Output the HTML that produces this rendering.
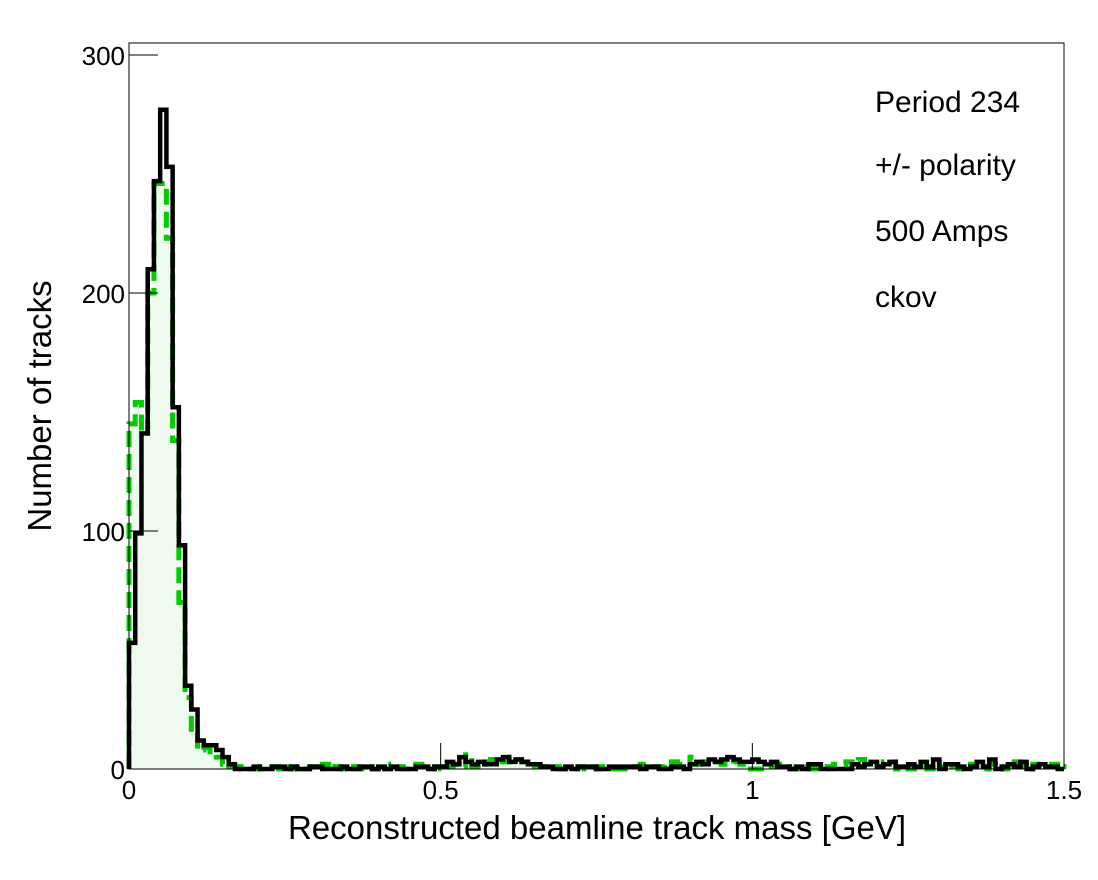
<!DOCTYPE html>
<html><head><meta charset="utf-8"><style>
body{margin:0;background:#fff;}
svg text{font-family:"Liberation Sans",sans-serif;fill:#000;}
</style></head><body>
<svg id="c" width="1098" height="875" xmlns="http://www.w3.org/2000/svg">
<rect x="0" y="0" width="1098" height="875" fill="#fff"/>
<g id="plot"></g>
<rect x="129" y="43" width="935" height="726" fill="none" stroke="#000" stroke-width="1"/>
<g id="axes"></g>
<text x="597" y="839" font-size="33" text-anchor="middle">Reconstructed beamline track mass [GeV]</text>
<text x="0" y="0" font-size="33" text-anchor="middle" transform="translate(51,406) rotate(-90)">Number of tracks</text>
<text x="875" y="112" font-size="30">Period 234</text>
<text x="875" y="175" font-size="30">+/- polarity</text>
<text x="875" y="241" font-size="30">500 Amps</text>
<text x="875" y="307" font-size="30">ckov</text>
</svg>
<script>
const xTicks=[0,0.5,1,1.5];
const xTickLabels=["0","0.5","1","1.5"];
const yTicks=[0,100,200,300];
const yTickLabels=["0","100","200","300"];
const binWidth=0.01;
const blackHead=[53,99,141,210,247,277,253,152,94,35,25,12,10,10,8,5,2,0];
const blackTail=[0,0,1,0,0,1,1,0,1,0,0,1,1,0,0,0,1,0,0,1,1,0,1,0,1,0,0,0,1,1,0,1,1,3,2,5,3,2,3,2,2,4,5,3,4,3,2,2,1,1,0,0,1,0,1,1,1,0,0,1,1,1,1,1,0,1,1,0,0,1,1,0,2,3,2,4,3,4,5,4,3,3,4,3,2,3,1,1,0,1,0,2,2,0,0,0,0,0,2,1,2,3,1,2,3,1,1,2,1,3,1,4,0,2,2,1,0,1,3,1,4,0,1,2,1,3,0,1,2,1,1,0];
const greenHead=[145,154,141,200,246,246,223,138,70,30,15,8,9,6,5,2,1,1];
const greenTail=[0,0,0,1,1,1,0,1,0,1,0,1,0,2,0,1,0,0,1,0,1,0,2,0,2,1,0,0,2,1,0,1,0,1,2,1,6,1,2,3,4,3,3,5,4,3,2,1,1,1,1,0,0,0,1,0,0,1,0,0,0,0,1,1,2,2,1,1,2,3,2,1,5,2,3,3,3,2,2,3,2,0,0,0,1,1,2,1,0,0,1,0,0,0,1,2,2,3,2,4,2,2,1,3,3,0,1,0,1,1,0,3,1,2,1,0,1,2,1,0,2,1,0,1,3,1,0,2,1,1,2,1];
const blackVals=blackHead.concat(blackTail).slice(0,150);
const greenVals=greenHead.concat(greenTail).slice(0,150);
while(blackVals.length<150)blackVals.push(0);
while(greenVals.length<150)greenVals.push(0);

const X0=129,X1=1064,Y0=769,Y300=55;
const sx=v=>X0+(v-0)/1.5*(X1-X0);
const sy=v=>Y0-(v/300)*(Y0-Y300);
const NS="http://www.w3.org/2000/svg";
function stepPath(vals){
  let d="M"+sx(0)+","+sy(0);
  vals.forEach((v,i)=>{d+=" L"+sx(i*binWidth)+","+sy(v)+" L"+sx((i+1)*binWidth)+","+sy(v);});
  d+=" L"+sx(vals.length*binWidth)+","+sy(0);
  return d;
}
const plot=document.getElementById('plot');
const fill=document.createElementNS(NS,'path');
fill.setAttribute('d',stepPath(greenVals)+" Z");
fill.setAttribute('fill','#effaef');
fill.setAttribute('stroke','none');


plot.appendChild(fill);
const g=document.createElementNS(NS,'path');
g.setAttribute('d',stepPath(greenVals));
g.setAttribute('fill','none');
g.setAttribute('stroke','#00cc00');
g.setAttribute('stroke-width','5');
g.setAttribute('stroke-dasharray','16,7');


plot.appendChild(g);
const b=document.createElementNS(NS,'path');
b.setAttribute('d',stepPath(blackVals));
b.setAttribute('fill','none');
b.setAttribute('stroke','#000');
b.setAttribute('stroke-width','4.5');


plot.appendChild(b);

const axes=document.getElementById('axes');
xTicks.forEach((t,i)=>{
  const l=document.createElementNS(NS,'line');
  l.setAttribute('x1',sx(t));l.setAttribute('x2',sx(t));
  l.setAttribute('y1',Y0);l.setAttribute('y2',Y0-26);
  l.setAttribute('stroke','#000');l.setAttribute('stroke-width','1');
  
  
  axes.appendChild(l);
  const tx=document.createElementNS(NS,'text');
  tx.setAttribute('x',sx(t));tx.setAttribute('y',Y0+30);
  tx.setAttribute('font-size','26');tx.setAttribute('text-anchor','middle');
  tx.textContent=xTickLabels[i];
  
  
  axes.appendChild(tx);
});
yTicks.forEach((t,i)=>{
  const l=document.createElementNS(NS,'line');
  l.setAttribute('x1',X0);l.setAttribute('x2',X0+29);
  l.setAttribute('y1',sy(t));l.setAttribute('y2',sy(t));
  l.setAttribute('stroke','#000');l.setAttribute('stroke-width','1');
  
  
  axes.appendChild(l);
  const tx=document.createElementNS(NS,'text');
  tx.setAttribute('x',X0-4);tx.setAttribute('y',sy(t)+10);
  tx.setAttribute('font-size','26');tx.setAttribute('text-anchor','end');
  tx.textContent=yTickLabels[i];
  
  
  axes.appendChild(tx);
});
</script>
</body></html>
